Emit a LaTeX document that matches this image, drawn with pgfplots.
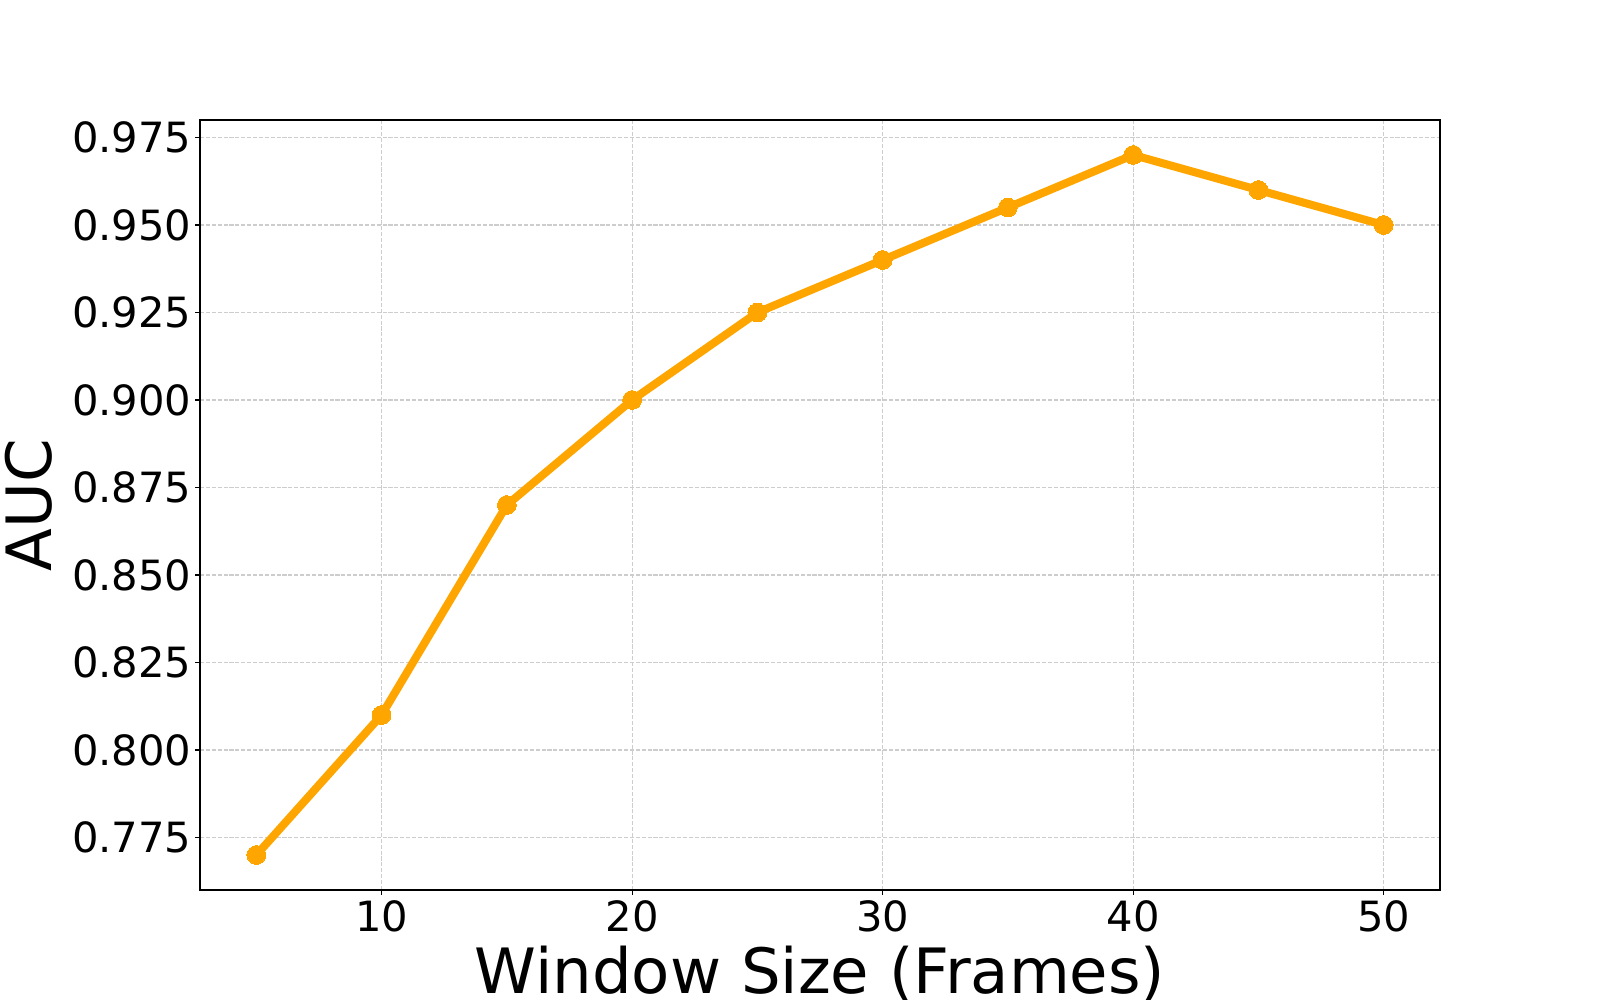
\documentclass[border=0pt]{standalone}
\usepackage{fontspec}
\setmainfont{DejaVu Sans}
\usepackage{pgfplots}
\pgfplotsset{compat=1.18}
\definecolor{auc}{HTML}{FFA500}
\definecolor{gridc}{HTML}{CDCDCD}

\begin{document}
\begin{tikzpicture}
\begin{axis}[
  scale only axis,width=892.8pt,height=554.4pt,
  xmin=2.75,xmax=52.25,ymin=0.76,ymax=0.98,
  xtick={10,20,30,40,50},
  ytick={0.775,0.8,0.825,0.85,0.875,0.9,0.925,0.95,0.975},
  yticklabel style={/pgf/number format/fixed,/pgf/number format/fixed zerofill,/pgf/number format/precision=3},
  /pgf/number format/assume math mode=true,
  tick align=outside,major tick length=3.5pt,
  every tick/.style={black,line width=0.8pt},
  axis line style={line width=0.8pt},
  xtick pos=bottom,ytick pos=left,
  grid=major,
  major grid style={gridc,line width=0.8pt,dash pattern=on 2.96pt off 1.28pt},
  ticklabel style={font=\fontsize{30}{36}\selectfont},
  xticklabel style={anchor=north,inner sep=0pt,yshift=-3.7pt},
  yticklabel style={anchor=east,inner sep=0pt,xshift=-2.4pt},
  xlabel={Window Size (Frames)},ylabel={AUC},
  label style={font=\fontsize{45}{54}\selectfont},
  xlabel style={at={(axis description cs:0.5,-0.0729)},anchor=north,inner sep=0pt},
  ylabel style={at={(axis description cs:-0.1185,0.5)},anchor=south,inner sep=0pt},
]
\addplot[auc,line width=5.8pt,mark=*,mark size=6.75pt,mark options={solid,fill=auc,draw=auc,line width=0pt}]
  coordinates {(5,0.770)(10,0.810)(15,0.870)(20,0.900)(25,0.925)(30,0.940)(35,0.955)(40,0.970)(45,0.960)(50,0.950)};
\end{axis}
\pgfresetboundingbox
\path (-144pt,-79.2pt) rectangle (1008pt,640.8pt);
\end{tikzpicture}
\end{document}
